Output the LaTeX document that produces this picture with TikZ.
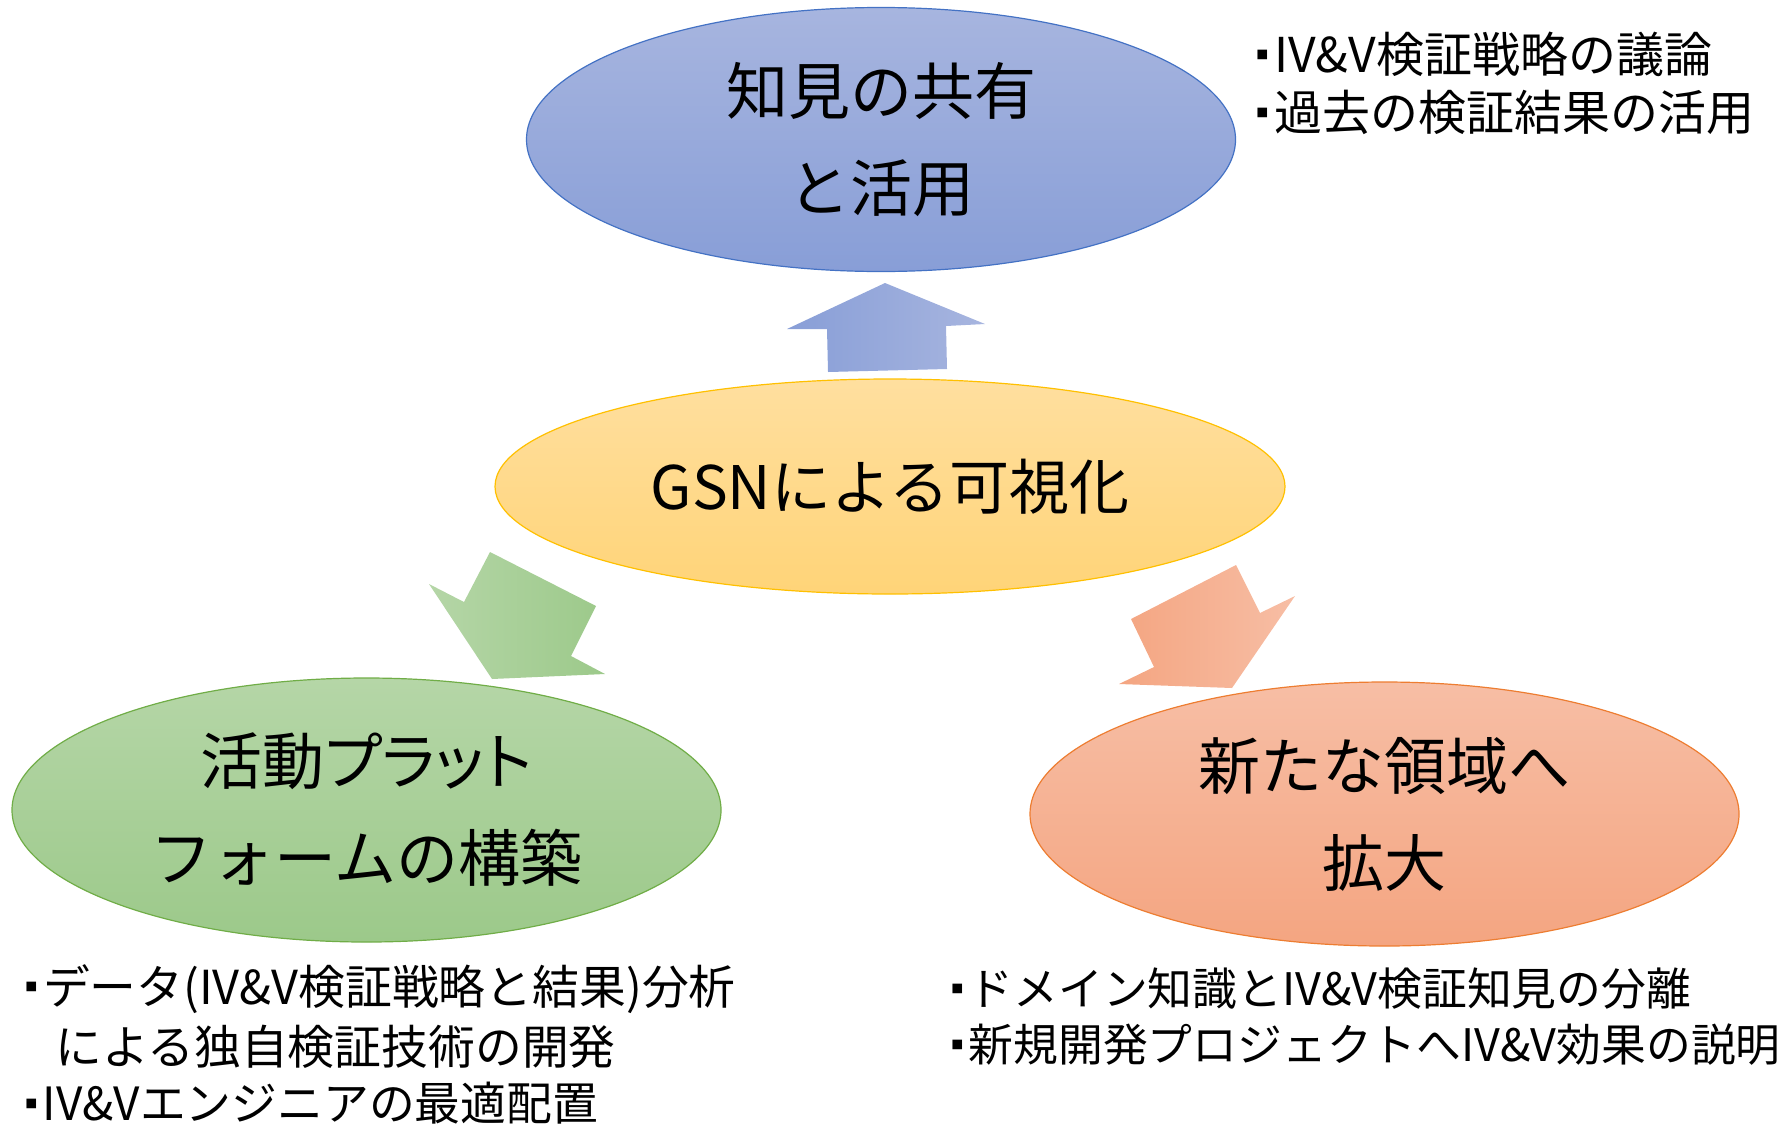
\documentclass[tikz,border=0pt]{standalone}
\usepackage{fontspec}
\setmainfont{Noto Sans CJK JP}
\newfontfamily\paltfont[RawFeature=+palt]{Noto Sans CJK JP}
\usetikzlibrary{shapes.geometric}
\definecolor{blueT}{HTML}{A7B5DF}
\definecolor{blueB}{HTML}{889ED7}
\definecolor{blueLine}{HTML}{4472C4}
\definecolor{goldT}{HTML}{FFDF9F}
\definecolor{goldB}{HTML}{FFD478}
\definecolor{goldLine}{HTML}{FFC000}
\definecolor{greenT}{HTML}{B5D6A7}
\definecolor{greenB}{HTML}{9CC98A}
\definecolor{greenLine}{HTML}{70AD47}
\definecolor{orangeT}{HTML}{F7BEA5}
\definecolor{orangeB}{HTML}{F4A581}
\definecolor{orangeLine}{HTML}{ED7D31}
\newcommand\sqdot{\raisebox{0.27em}{\fontsize{6}{6}\selectfont ■}\hspace{0.12em}}
\begin{document}
\begin{tikzpicture}[x=0.5pt,y=-0.5pt,
  bubble/.style={ellipse, minimum width=354.5pt, minimum height=132pt, inner sep=0pt,
    line width=0.6pt, align=center, font=\fontsize{31}{48.5}\selectfont},
  note/.style={anchor=west, inner sep=0pt, font=\fontsize{22}{29}\selectfont}]
\useasboundingbox (0,0) rectangle (1791,1125);
% block arrows
\shade[left color=blueB, right color=blueT]
  (885,283) -- (985,324) -- (946,326) -- (947,369) -- (828,372) -- (827,329) -- (787,329) -- cycle;
\shade[left color=greenT, right color=greenB]
  (490,552) -- (596,606) -- (571,656) -- (605,674) -- (492,679) -- (429,584) -- (464,602) -- cycle;
\shade[left color=orangeB, right color=orangeT]
  (1131,619) -- (1236,565) -- (1260,613) -- (1295,596) -- (1232,688) -- (1119,684) -- (1154,667) -- cycle;
% ellipses
\node[bubble, draw=blueLine, top color=blueT, bottom color=blueB] (share) at (881,139.5) {知見の共有\\と活用};
\node[bubble, minimum width=395pt, minimum height=107.5pt, draw=goldLine, top color=goldT, bottom color=goldB,
  font=\fontsize{30}{48.5}\selectfont] (gsn) at (890,486.5) {GSNによる可視化};
\node[bubble, draw=greenLine, top color=greenT, bottom color=greenB] (platform) at (366.5,810) {{\paltfont 活動プラット}\\フォームの構築};
\node[bubble, draw=orangeLine, top color=orangeT, bottom color=orangeB] (expand) at (1384.5,814) {新たな領域へ\\拡大};
% notes
\node[note, font=\fontsize{24}{29}\selectfont] (tr1) at (1256,54) {\sqdot IV\&V検証戦略の議論};
\node[note, font=\fontsize{24}{29}\selectfont] (tr2) at (1256,112) {\sqdot 過去の検証結果の活用};
\node[note, font=\fontsize{23.4}{29}\selectfont] (bl1) at (25,989) {\sqdot データ(IV\&V検証戦略と結果)分析};
\node[note, font=\fontsize{23.4}{29}\selectfont] (bl2) at (55,1047) {による独自検証技術の開発};
\node[note, font=\fontsize{22.9}{29}\selectfont] (bl3) at (25,1103) {\sqdot IV\&Vエンジニアの最適配置};
\node[note, font=\fontsize{22.4}{29}\selectfont] (br1) at (951,989) {\sqdot ドメイン知識とIV\&V検証知見の分離};
\node[note, font=\fontsize{22.4}{29}\selectfont] (br2) at (951,1045) {\sqdot 新規開発プロジェクトへIV\&V効果の説明};
\end{tikzpicture}
\end{document}
